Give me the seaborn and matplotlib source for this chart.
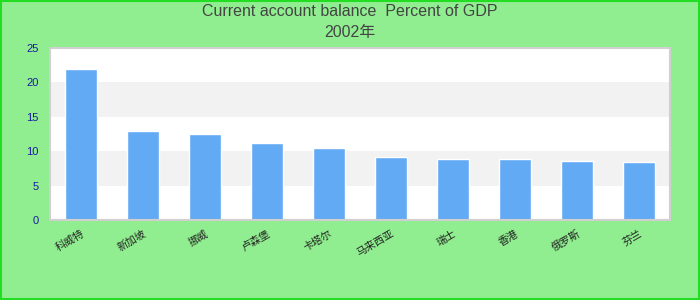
import matplotlib
matplotlib.use("Agg")
import matplotlib.pyplot as plt
import seaborn as sns
import pandas as pd

countries = ["科威特", "新加坡", "挪威", "卢森堡", "卡塔尔", "马来西亚", "瑞士", "香港", "俄罗斯", "芬兰"]
values = [22.0, 13.0, 12.5, 11.2, 10.5, 9.1, 8.9, 8.8, 8.6, 8.5]
yticks = [0, 5, 10, 15, 20, 25]
title = "Current account balance  Percent of GDP\n2002年"

sns.set_theme(style="white")
plt.rcParams["font.family"] = ["Liberation Sans", "Noto Sans CJK SC", "DejaVu Sans"]

df = pd.DataFrame({"country": countries, "value": values})

fig = plt.figure(figsize=(7, 3), dpi=100, facecolor="#90ee90")
fig.patches.append(plt.Rectangle((0.001, 0.002), 0.997, 0.995, transform=fig.transFigure,
                                 fill=False, edgecolor="#22dd22", linewidth=1.5, zorder=10))
ax = fig.add_axes([0.0714, 0.2667, 0.8857, 0.5733])
ax.set_facecolor("white")
for lo, hi in [(5, 10), (15, 20)]:
    ax.axhspan(lo, hi, color="#f2f2f2", zorder=0, linewidth=0)

sns.barplot(data=df, x="country", y="value", color="#63aaf5", saturation=1,
            width=0.52, ax=ax, zorder=2)

ax.set_ylim(0, 25)
ax.set_yticks(yticks)
ax.set_xlim(-0.5, len(countries) - 0.5)
ax.set_xlabel("")
ax.set_ylabel("")
ax.tick_params(axis="y", colors="#1a1aa0", labelsize=8, length=0, pad=8)
ax.tick_params(axis="x", colors="#222222", labelsize=7.5, length=0, pad=6)
plt.setp(ax.get_xticklabels(), rotation=30, ha="right", rotation_mode="anchor")
for s in ax.spines.values():
    s.set_color("#d0d0d0")
    s.set_linewidth(1.5)

fig.suptitle(title, y=0.985, fontsize=11.5, color="#444444", linespacing=1.5)

fig.savefig("out.png", dpi=100, facecolor=fig.get_facecolor())
